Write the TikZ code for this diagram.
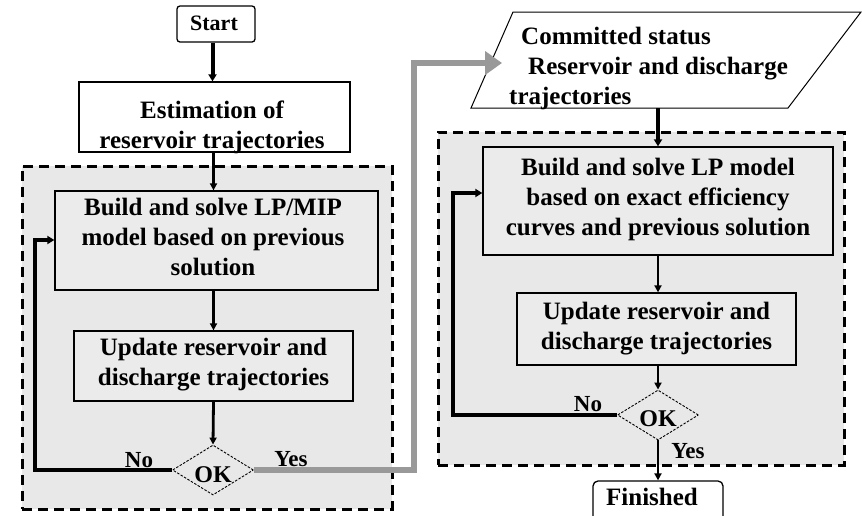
\documentclass[tikz,border=0pt]{standalone}
\usepackage{fontspec}
\setmainfont{Liberation Serif}
\usetikzlibrary{arrows.meta,shapes.geometric}
\definecolor{panel}{HTML}{E8E8E8}
\definecolor{inbox}{HTML}{EBEBEB}
\definecolor{grayarrow}{HTML}{999999}
\begin{document}
\begin{tikzpicture}[x=1pt,y=-1pt,
  txt/.style={align=center,font=\fontsize{25}{30}\selectfont\bfseries,inner sep=0pt},
  lbl/.style={font=\fontsize{23}{26}\selectfont\bfseries,inner sep=0pt},
  whitebox/.style={draw,line width=1.3pt,fill=white,inner sep=0pt},
  graybox/.style={draw,line width=1.3pt,fill=inbox,inner sep=0pt},
  panelbox/.style={draw,line width=3pt,dash pattern=on 10pt off 6pt,fill=panel},
  okshape/.style={diamond,draw,line width=0.9pt,dash pattern=on 2.5pt off 1.5pt,inner sep=0pt,minimum width=81pt,minimum height=50pt},
  oktxt/.style={font=\fontsize{24}{26}\selectfont\bfseries,inner sep=0pt},
  conn/.style={line width=2.8pt,-{Triangle[length=7pt,width=7pt]}},
  thickconn/.style={line width=4pt,-{Triangle[length=7pt,width=8pt]}},
  grayconn/.style={line width=6pt,color=grayarrow,-{Triangle[length=17pt,width=23pt]}}
]
\useasboundingbox (0,0) rectangle (862,515);
\clip (0,0) rectangle (862,515);
\fill[white] (0,0) rectangle (862,515);

% panels
\node[panelbox,minimum width=370pt,minimum height=343pt,inner sep=0pt] (panelL) at (207,337.5) {};
\node[panelbox,minimum width=406pt,minimum height=333pt,inner sep=0pt] (panelR) at (641,298.5) {};

% left column
\node[whitebox,rounded corners=3pt,minimum width=78pt,minimum height=36pt] (start) at (216,24) {};
\node[txt,font=\fontsize{22}{26}\selectfont\bfseries] at (214,23) {Start};

\node[whitebox,minimum width=271pt,minimum height=70pt] (est) at (214.5,117) {};
\node[txt] at (212,127.5) {Estimation of\\reservoir trajectories};

\node[graybox,minimum width=323pt,minimum height=99pt] (buildL) at (216.5,240.5) {};
\node[txt] at (213,237) {Build and solve LP/MIP\\model based on previous\\solution};

\node[graybox,minimum width=279pt,minimum height=70pt] (updL) at (213.5,366) {};
\node[txt] at (213.5,365) {Update reservoir and\\discharge trajectories};

\node[okshape] (okL) at (213,470) {};
\node[oktxt] at (213,475) {OK};

% right column
\coordinate (pTL) at (513,12);
\coordinate (pTR) at (861,12);
\coordinate (pBR) at (788,108);
\coordinate (pBL) at (471,108);
\coordinate (pbot) at (658,108);
\coordinate (pin) at (502,63);
\draw[line width=1pt,fill=white] (pTL) -- (pTR) -- (pBR) -- (pBL) -- cycle;
\node[txt,align=left,anchor=north west] (paratext) at (509,27) {\hspace*{12pt}Committed status\\\hspace*{19pt}Reservoir and discharge\\trajectories};

\node[graybox,minimum width=350pt,minimum height=108pt] (buildR) at (658,201) {};
\node[txt] at (658,199.5) {Build and solve LP model\\based on exact efficiency\\curves and previous solution};

\node[graybox,minimum width=279pt,minimum height=72pt] (updR) at (656.5,329) {};
\node[txt] at (656.5,329) {Update reservoir and\\discharge trajectories};

\node[okshape] (okR) at (658,415) {};
\node[oktxt] at (658,419) {OK};

\node[whitebox,rounded corners=5pt,minimum width=130pt,minimum height=40pt] (fin) at (658,501) {};
\node[txt] at (652,497) {Finished};

% connectors left
\draw[thickconn] (start.south -| est.north) ++(-2,0) coordinate (s1) -- (s1 |- est.north);
\draw[conn] (est.south) ++(-1,0) coordinate (e1) -- (e1 |- buildL.north);
\draw[conn] (buildL.south -| updL.north) -- (updL.north);
\draw[conn] (updL.south) -- (okL.north);
\coordinate (lcL) at (35,240);
\draw[thickconn] (okL.west) -| (lcL) -- (lcL -| buildL.west);

% gray connector
\coordinate (gc) at (414,63);
\draw[grayconn,line join=miter] (okL.east) -| (gc) -- (pin);

% connectors right
\draw[thickconn] (pbot) -- (pbot |- buildR.north);
\draw[conn] (buildR.south) -- (buildR.south |- updR.north);
\draw[conn] (updR.south -| okR.north) -- (okR.north);
\coordinate (lcR) at (453,193);
\draw[thickconn] (okR.west) -| (lcR) -- (lcR -| buildR.west);
\draw[conn] (okR.south) -- (fin.north);

% labels
\node[lbl] (noL) at (139,460) {No};
\node[lbl] (yesL) at (291,459) {Yes};
\node[lbl] (noR) at (588,404) {No};
\node[lbl] (yesR) at (688,451) {Yes};
\end{tikzpicture}
\end{document}
